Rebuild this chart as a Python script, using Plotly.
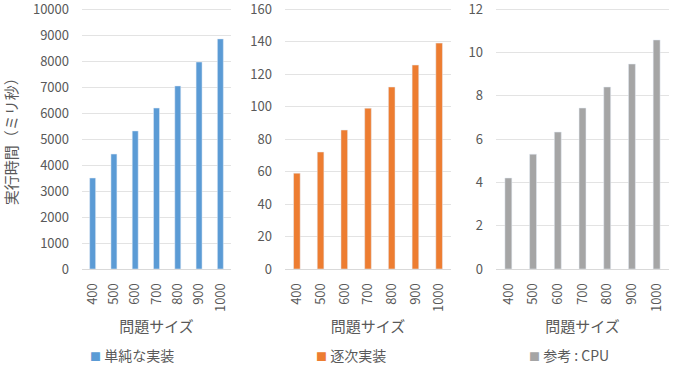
import plotly.graph_objects as go

sizes = ["400", "500", "600", "700", "800", "900", "1000"]
naive = [3500, 4420, 5310, 6190, 7040, 7960, 8850]
sequential = [59, 72, 85.5, 99, 112, 125.5, 139]
cpu = [4.2, 5.3, 6.32, 7.43, 8.4, 9.46, 10.57]

names = ["単純な実装", "逐次実装", "参考 : CPU"]
colors = ["#5B9BD5", "#ED7D31", "#A5A5A5"]
y_max = [10000, 160, 12]
dticks = [1000, 20, 2]
domains = [[82/677, 231/677], [285/677, 451/677], [496/677, 669/677]]
legend_x = [90/677, 316/677, 529/677]

FONT = "Noto Sans CJK JP"
GRAY = "#595959"
EXT = 1.01
ZERO_PX, TOPTICK_PX = 269, 9
top_px = ZERO_PX - (ZERO_PX - TOPTICK_PX) * EXT

fig = go.Figure()
series = [naive, sequential, cpu]
for i in range(3):
    ax = "" if i == 0 else str(i + 1)
    fig.add_trace(go.Bar(
        x=sizes, y=series[i], name=names[i], marker_color=colors[i],
        xaxis="x" + ax, yaxis="y" + ax, showlegend=False,
    ))
    fig.add_trace(go.Scatter(
        x=[None], y=[None], mode="markers",
        marker=dict(size=1, color="rgba(0,0,0,0)"),
        name=f'<span style="color:{colors[i]};font-size:11px">■</span> {names[i]}',
        xaxis="x" + ax, yaxis="y" + ax,
        legend="legend" + ax, showlegend=True,
    ))

y_dom = [(376 - ZERO_PX) / 376, (376 - top_px) / 376]
layout = dict(
    width=677, height=376,
    margin=dict(l=0, r=0, t=0, b=0),
    paper_bgcolor="white", plot_bgcolor="white",
    bargap=0.72, showlegend=True,
    font=dict(family=FONT, size=13, color=GRAY),
)
for i in range(3):
    ax = "" if i == 0 else str(i + 1)
    layout["xaxis" + ax] = dict(
        domain=domains[i], anchor="y" + ax, tickangle=-90,
        title=dict(text="問題サイズ", font=dict(size=15, color=GRAY), standoff=10),
        showline=True, linecolor="#d9d9d9", ticks="", automargin=False,
        tickfont=dict(size=13, color=GRAY), ticklabelstandoff=8,
    )
    layout["yaxis" + ax] = dict(
        domain=y_dom, anchor="x" + ax, range=[0, y_max[i] * EXT],
        dtick=dticks[i], tickformat="d", ticklabeloverflow="allow",
        showgrid=True, gridcolor="#e3e3e3", zeroline=False, showline=False,
        automargin=False, tickfont=dict(size=13, color=GRAY),
        ticklabelstandoff=12,
    )
    layout["legend" + ax] = dict(
        x=legend_x[i] - 40/677, y=(376 - 356) / 376, xanchor="left", yanchor="middle",
        orientation="h", bgcolor="rgba(0,0,0,0)",
        font=dict(size=14, color=GRAY), itemwidth=30,
    )
layout["yaxis"]["title"] = dict(text="実行時間（ミリ秒）", font=dict(size=15, color=GRAY), standoff=14)

fig.update_layout(**layout)
fig.write_html("out.html")
